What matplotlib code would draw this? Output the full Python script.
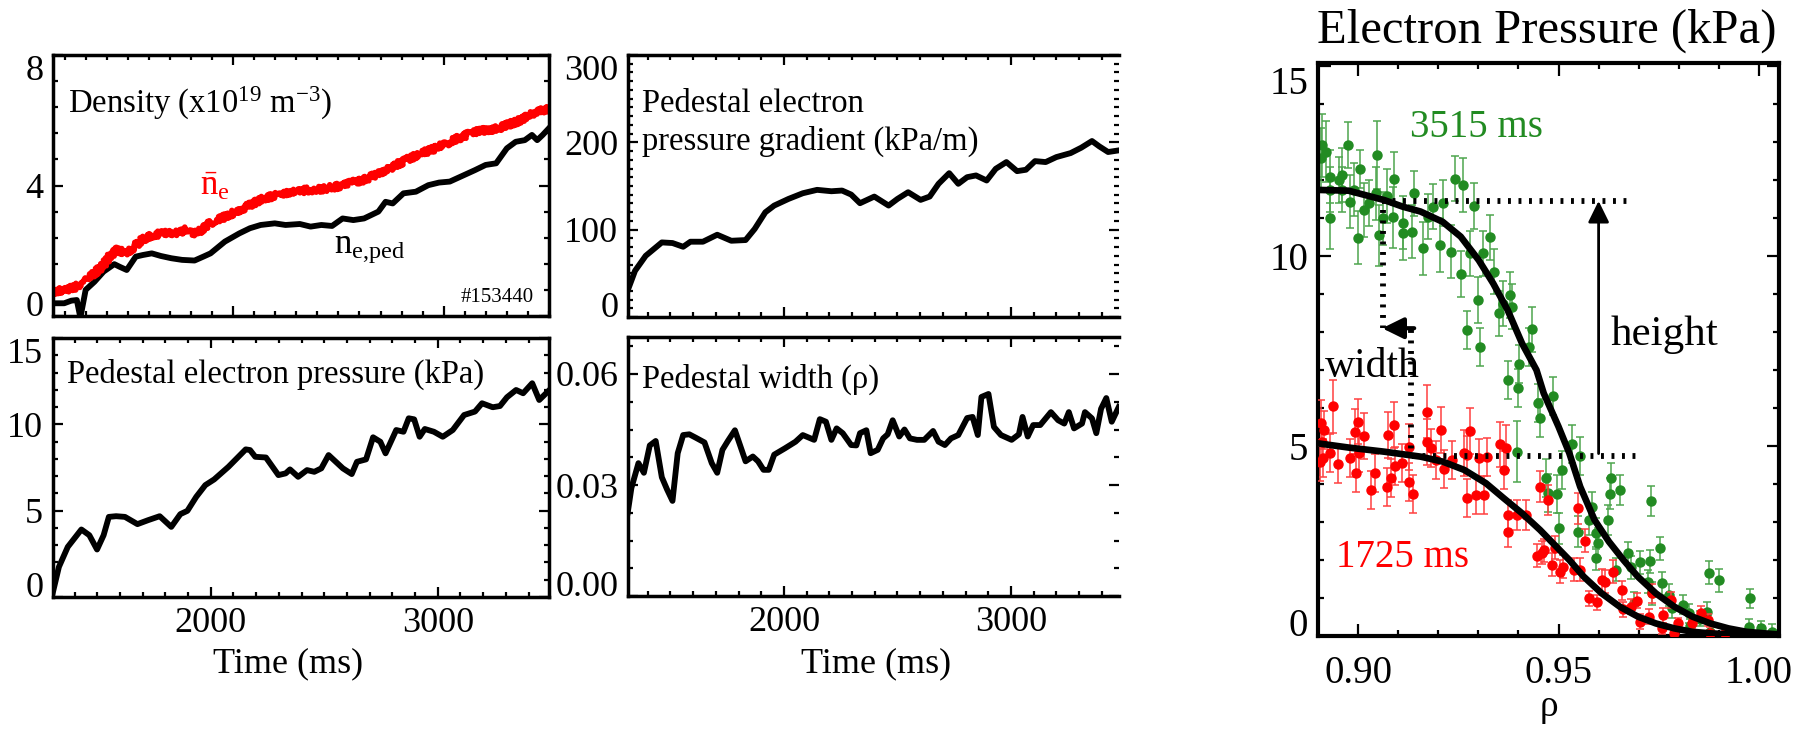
import matplotlib
matplotlib.use("Agg")
import matplotlib.pyplot as plt
from matplotlib.ticker import MultipleLocator, FormatStrFormatter

plt.rcParams['font.family'] = ['Liberation Serif', 'DejaVu Serif']
plt.rcParams['mathtext.fontset'] = 'custom'
plt.rcParams['mathtext.rm'] = 'Liberation Serif'
plt.rcParams['mathtext.it'] = 'Liberation Serif:italic'

GREEN = '#228b22'
RED = '#ff0000'

# ---- time traces, shot 153440 ----
t_ne_ped = [1145, 1198, 1232, 1258, 1275, 1300, 1342, 1385, 1436, 1461, 1495, 1538, 1572,
            1614, 1657, 1707, 1758, 1817, 1859, 1893, 1961, 2029, 2080, 2131, 2198, 2249,
            2317, 2368, 2419, 2470, 2520, 2571, 2622, 2690, 2724, 2758, 2809, 2868, 2927,
            2978, 3029, 3080, 3148, 3199, 3249, 3300, 3342, 3385, 3419, 3444, 3470, 3499]
ne_ped = [0.39, 0.39, 0.47, 0.49, -0.05, 0.80, 1.05, 1.36, 1.59, 1.51, 1.41, 1.82, 1.87,
          1.92, 1.84, 1.77, 1.72, 1.70, 1.82, 1.92, 2.28, 2.53, 2.69, 2.79, 2.84, 2.79,
          2.82, 2.74, 2.79, 2.76, 2.99, 2.94, 2.99, 3.20, 3.50, 3.45, 3.76, 3.81, 4.01,
          4.09, 4.12, 4.27, 4.47, 4.63, 4.68, 5.14, 5.34, 5.39, 5.55, 5.39, 5.55, 5.75]

t_ne_bar = [1145, 1198, 1249, 1300, 1342, 1385, 1419, 1453, 1487, 1520, 1571, 1622, 1673,
            1724, 1775, 1826, 1876, 1944, 2012, 2080, 2148, 2215, 2283, 2351, 2419, 2487,
            2555, 2622, 2690, 2758, 2826, 2893, 2961, 3029, 3097, 3165, 3232, 3300, 3368,
            3436, 3499]
ne_bar = [0.75, 0.80, 0.88, 1.10, 1.31, 1.56, 1.87, 2.04, 1.92, 2.07, 2.35, 2.48, 2.55,
          2.53, 2.64, 2.53, 2.79, 2.99, 3.20, 3.40, 3.61, 3.71, 3.81, 3.86, 3.89, 3.96,
          4.07, 4.17, 4.37, 4.58, 4.80, 4.98, 5.14, 5.34, 5.52, 5.68, 5.70, 5.85, 6.01,
          6.26, 6.36]

t_pe = [1305, 1331, 1370, 1430, 1465, 1499, 1528, 1551, 1583, 1622, 1677, 1724, 1775,
        1826, 1866, 1897, 1936, 1976, 2015, 2078, 2154, 2173, 2196, 2243, 2298, 2330,
        2349, 2385, 2424, 2456, 2487, 2519, 2582, 2621, 2644, 2684, 2715, 2747, 2770,
        2817, 2849, 2872, 2896, 2920, 2943, 2983, 3022, 3066, 3116, 3164, 3195, 3242,
        3274, 3305, 3345, 3376, 3416, 3447, 3489]
pe_ped = [0.3, 1.74, 2.90, 3.91, 3.58, 2.75, 3.58, 4.64, 4.68, 4.64, 4.22, 4.45, 4.68,
          4.06, 4.80, 4.99, 5.80, 6.48, 6.81, 7.54, 8.55, 8.51, 8.12, 8.08, 7.06, 7.16,
          7.39, 6.96, 7.35, 7.25, 7.45, 8.22, 7.45, 7.12, 7.83, 7.97, 9.25, 8.99, 8.32,
          9.67, 9.57, 10.35, 10.29, 9.28, 9.73, 9.57, 9.28, 9.67, 10.54, 10.74, 11.22,
          10.99, 11.06, 11.57, 11.99, 11.80, 12.38, 11.41, 11.95]

t_grad = [1312, 1344, 1391, 1462, 1509, 1556, 1588, 1643, 1706, 1768, 1831, 1871, 1918,
          1957, 2020, 2083, 2146, 2209, 2256, 2296, 2335, 2398, 2461, 2500, 2547, 2602,
          2642, 2681, 2728, 2768, 2807, 2846, 2893, 2933, 2980, 3027, 3066, 3106, 3153,
          3200, 3263, 3310, 3357, 3389, 3428, 3475]
grad_pe = [30.6, 52.9, 70.1, 85.4, 84.7, 80.4, 86.2, 86.2, 94.2, 87.3, 88.1, 100.8, 119.9,
           127.6, 135.2, 141.7, 145.6, 144.0, 144.8, 140.2, 130.3, 137.9, 127.6, 135.2,
           142.9, 134.1, 137.9, 152.5, 164.7, 152.5, 160.1, 162.1, 156.3, 169.7, 177.4,
           167.0, 168.6, 178.5, 177.4, 183.1, 187.7, 193.9, 201.5, 195.4, 188.9, 190.8]

t_wid = [1312, 1328, 1359, 1383, 1409, 1435, 1462, 1485, 1509, 1532, 1556, 1583, 1611,
         1650, 1682, 1706, 1729, 1753, 1784, 1831, 1863, 1886, 1910, 1933, 1957, 2004,
         2051, 2083, 2133, 2158, 2185, 2209, 2232, 2259, 2296, 2319, 2335, 2363, 2382,
         2413, 2437, 2457, 2479, 2508, 2531, 2555, 2586, 2618, 2657, 2681, 2709, 2736,
         2768, 2807, 2831, 2854, 2870, 2901, 2925, 2956, 3003, 3035, 3051, 3074, 3098,
         3129, 3176, 3208, 3235, 3255, 3278, 3313, 3326, 3357, 3376, 3397, 3420, 3444,
         3475]
width_ped = [0.0226, 0.0292, 0.0359, 0.0333, 0.0407, 0.0419, 0.0321, 0.0288, 0.0257,
             0.0386, 0.0435, 0.0437, 0.0428, 0.0415, 0.0359, 0.0333, 0.0395, 0.0419,
             0.0448, 0.0364, 0.0377, 0.0364, 0.0341, 0.0341, 0.0382, 0.0399, 0.0417,
             0.0435, 0.0422, 0.0478, 0.0471, 0.0422, 0.0453, 0.0440, 0.0408, 0.0407,
             0.0440, 0.0448, 0.0386, 0.0395, 0.0426, 0.0437, 0.0475, 0.0431, 0.0450,
             0.0426, 0.0422, 0.0422, 0.0446, 0.0417, 0.0408, 0.0426, 0.0435, 0.0481,
             0.0484, 0.0435, 0.0538, 0.0546, 0.0457, 0.0435, 0.0422, 0.0437, 0.0484,
             0.0431, 0.0462, 0.0462, 0.0497, 0.0475, 0.0466, 0.0497, 0.0453, 0.0466,
             0.0497, 0.0480, 0.0440, 0.0506, 0.0535, 0.0471, 0.0511]

# ---- electron pressure profiles ----
rho_3515 = [0.8911, 0.8908, 0.8920, 0.8929, 0.8931, 0.8931, 0.8953, 0.8960, 0.8961, 0.8974,
            0.8979, 0.8990, 0.9006, 0.9001, 0.9014, 0.9026, 0.9044, 0.9048, 0.9053, 0.9062,
            0.9072, 0.9089, 0.9087, 0.9111, 0.9111, 0.9134, 0.9140, 0.9161, 0.9175, 0.9188,
            0.9204, 0.9211, 0.9233, 0.9241, 0.9261, 0.9256, 0.9278, 0.9289, 0.9298, 0.9312,
            0.9328, 0.9340, 0.9351, 0.9362, 0.9378, 0.9384, 0.9272, 0.9305, 0.9402, 0.9435,
            0.9427, 0.9375, 0.9400, 0.9486, 0.9448, 0.9454, 0.9396, 0.9534, 0.9554, 0.9509,
            0.9468, 0.9473, 0.9496, 0.9583, 0.9631, 0.9628, 0.9653, 0.9500, 0.9549, 0.9576,
            0.9594, 0.9624, 0.9730, 0.9599, 0.9594, 0.9673, 0.9703, 0.9728, 0.9752, 0.9644,
            0.9680, 0.9724, 0.9757, 0.9876, 0.9900, 0.9775, 0.9733, 0.9689, 0.9811, 0.9784,
            0.9825, 0.9870, 0.9978, 0.9829, 0.9852, 0.9879, 0.9974, 1.0005, 1.0032]
pe_3515 = [12.92, 12.57, 12.75, 12.09, 11.75, 10.99, 12.00, 12.13, 11.75, 12.92,
           11.43, 11.75, 12.28, 10.48, 11.21, 11.39, 11.65, 12.66, 10.55, 10.99,
           11.58, 12.04, 11.02, 10.88, 10.60, 10.64, 11.65, 10.20, 11.04, 11.30,
           10.29, 11.39, 10.11, 12.04, 11.87, 9.53, 10.07, 11.32, 8.84, 10.07,
           10.49, 9.59, 8.49, 8.75, 8.97, 8.67, 8.05, 7.61, 7.16, 8.07,
           7.61, 6.75, 6.52, 6.32, 6.12, 5.73, 4.85, 5.05, 4.75, 4.37,
           4.15, 3.77, 3.75, 3.40, 4.15, 3.75, 3.84, 2.83, 2.75, 3.05,
           2.70, 3.05, 3.56, 2.44, 2.04, 2.18, 1.94, 1.97, 2.31, 1.74,
           1.81, 1.43, 1.39, 1.67, 1.47, 1.08, 1.12, 0.86, 0.82, 0.73,
           0.60, 0.64, 0.99, 0.26, 0.46, 0.11, 0.25, 0.20, 0.11]
err_3515 = [0.83, 0.80, 0.80, 0.70, 0.60, 0.80, 0.60, 0.70, 0.60, 0.60,
            0.70, 0.70, 0.50, 0.70, 0.70, 0.60, 0.70, 0.90, 0.80, 0.70,
            0.70, 0.70, 0.80, 0.70, 0.70, 0.70, 0.60, 0.70, 0.60, 0.60,
            0.70, 0.60, 0.70, 0.60, 0.70, 0.60, 0.60, 0.60, 0.60, 0.60,
            0.60, 0.60, 0.60, 0.60, 0.60, 0.60, 0.50, 0.50, 0.50, 0.60,
            0.50, 0.50, 0.50, 0.50, 0.50, 0.50, 0.80, 0.50, 0.50, 0.50,
            0.50, 0.50, 0.50, 0.40, 0.40, 0.40, 0.40, 0.40, 0.40, 0.40,
            0.40, 0.40, 0.40, 0.40, 0.30, 0.30, 0.30, 0.30, 0.30, 0.30,
            0.30, 0.30, 0.30, 0.30, 0.30, 0.30, 0.30, 0.30, 0.25, 0.25,
            0.25, 0.25, 0.25, 0.20, 0.20, 0.20, 0.20, 0.20, 0.20]

rho_1725 = [0.8908, 0.8914, 0.8911, 0.8913, 0.8905, 0.8931, 0.8937, 0.8951, 0.8980, 0.8992,
            0.8994, 0.9001, 0.9003, 0.9014, 0.9032, 0.9041, 0.9073, 0.9075, 0.9082, 0.9089,
            0.9091, 0.9110, 0.9128, 0.9128, 0.9137, 0.9171, 0.9173, 0.9182, 0.9195, 0.9208,
            0.9215, 0.9234, 0.9263, 0.9272, 0.9279, 0.9272, 0.9294, 0.9301, 0.9314, 0.9321,
            0.9355, 0.9364, 0.9369, 0.9373, 0.9373, 0.9396, 0.9420, 0.9454, 0.9473, 0.9459,
            0.9447, 0.9464, 0.9491, 0.9483, 0.9504, 0.9511, 0.9549, 0.9565, 0.9538, 0.9554,
            0.9576, 0.9596, 0.9608, 0.9617, 0.9637, 0.9658, 0.9662, 0.9682, 0.9696, 0.9703,
            0.9725, 0.9734, 0.9757, 0.9761, 0.9780, 0.9789, 0.9799, 0.9834, 0.9856, 0.9874,
            0.9879, 0.9915]
pe_1725 = [5.60, 5.42, 5.11, 4.68, 4.59, 4.81, 6.04, 4.53, 4.68, 5.38,
           4.28, 5.64, 4.81, 5.26, 3.84, 4.28, 3.93, 5.29, 4.15, 5.55,
           4.47, 4.54, 4.98, 4.06, 3.74, 5.90, 5.11, 4.96, 4.63, 5.42,
           4.39, 4.63, 4.81, 3.64, 5.39, 4.76, 3.71, 4.68, 3.71, 4.72,
           5.04, 4.37, 4.96, 3.18, 2.75, 3.18, 3.18, 3.93, 3.58, 2.19,
           2.11, 2.26, 2.32, 1.88, 1.69, 1.82, 3.36, 2.51, 1.75, 1.74,
           0.99, 0.89, 1.47, 1.43, 1.69, 1.21, 0.70, 0.77, 0.93, 0.38,
           0.51, 1.12, 0.20, 0.55, 0.95, 0.09, 0.33, 0.33, 0.60, 0.42,
           0.09, 0.07]
err_1725 = [0.60, 0.50, 0.50, 0.50, 0.50, 0.50, 0.70, 0.50, 0.50, 0.60,
            0.50, 0.60, 0.50, 0.60, 0.50, 0.50, 0.50, 0.60, 0.50, 0.60,
            0.50, 0.50, 0.60, 0.50, 0.50, 0.70, 0.60, 0.50, 0.50, 0.60,
            0.50, 0.50, 0.60, 0.50, 0.60, 0.50, 0.50, 0.50, 0.50, 0.50,
            0.60, 0.50, 0.60, 0.40, 0.40, 0.40, 0.40, 0.40, 0.40, 0.30,
            0.30, 0.30, 0.30, 0.30, 0.30, 0.30, 0.40, 0.30, 0.30, 0.30,
            0.20, 0.20, 0.30, 0.30, 0.30, 0.25, 0.20, 0.20, 0.20, 0.20,
            0.20, 0.25, 0.15, 0.20, 0.20, 0.15, 0.15, 0.15, 0.20, 0.15,
            0.15, 0.15]

# fitted profiles
rho_fit_3515 = [0.8900, 0.8976, 0.9066, 0.9111, 0.9156, 0.9211, 0.9256, 0.9301, 0.9337,
                0.9373, 0.9409, 0.9445, 0.9463, 0.9500, 0.9527, 0.9554, 0.9590, 0.9626,
                0.9662, 0.9698, 0.9743, 0.9789, 0.9834, 0.9879, 0.9924, 0.9969, 1.0014,
                1.0050]
pe_fit_3515 = [11.74, 11.72, 11.47, 11.30, 11.17, 10.90, 10.51, 9.89, 9.28, 8.58, 7.70,
               7.00, 6.39, 5.51, 4.81, 3.93, 3.05, 2.48, 2.00, 1.56, 1.12, 0.77, 0.51,
               0.33, 0.20, 0.11, 0.07, 0.04]
rho_fit_1725 = [0.8900, 0.8976, 0.9066, 0.9156, 0.9211, 0.9265, 0.9319, 0.9364, 0.9409,
                0.9454, 0.9491, 0.9527, 0.9563, 0.9608, 0.9653, 0.9698, 0.9743, 0.9789,
                0.9834, 0.9879, 0.9969, 1.0050]
pe_fit_1725 = [5.07, 4.96, 4.85, 4.72, 4.59, 4.37, 4.02, 3.62, 3.23, 2.79, 2.39, 2.00,
               1.56, 1.12, 0.77, 0.51, 0.33, 0.20, 0.11, 0.07, 0.02, 0.00]

W, H = 1806, 740
fig = plt.figure(figsize=(W / 100, H / 100), dpi=100)


def box(x0, y0, x1, y1):
    # pixel box (left, top, right, bottom) -> figure axes
    return fig.add_axes([x0 / W, 1 - y1 / H, (x1 - x0) / W, (y1 - y0) / H])


def style(ax, size, major, minor, spine=2.5, xpad=7):
    for s in ax.spines.values():
        s.set_linewidth(spine)
    ax.tick_params(which='both', direction='in', top=True, right=True,
                   width=1.6, labelsize=size, pad=7)
    ax.tick_params(axis='x', pad=xpad)
    ax.tick_params(which='major', length=major)
    ax.tick_params(which='minor', length=minor)


ax_n = box(53, 55, 549, 316)
ax_p = box(53, 338, 549, 597)
ax_g = box(628, 55, 1119, 317)
ax_w = box(628, 337, 1119, 596)
ax_r = box(1318, 63, 1779, 636)

# density
ax_n.plot(t_ne_ped, ne_ped, color='k', lw=4.2)
red_line, = ax_n.plot(t_ne_bar, ne_bar, color=RED, lw=4.0)
red_line.set_sketch_params(scale=3, length=2, randomness=2)
ax_n.set_xlim(1145, 3500)
ax_n.set_ylim(0, 8)
ax_n.yaxis.set_major_locator(MultipleLocator(4))
ax_n.yaxis.set_minor_locator(MultipleLocator(0.8))
ax_n.text(0.030, 0.778, r'Density (x10$^{19}$ m$^{-3}$)', transform=ax_n.transAxes,
          fontsize=23.5, va='baseline')
ax_n.text(0.296, 0.464, r'$\bar{\mathrm{n}}_\mathrm{e}$', transform=ax_n.transAxes,
          fontsize=25, color=RED, va='baseline')
ax_n.text(0.567, 0.241, r'$\mathrm{n}_\mathrm{e{,}ped}$', transform=ax_n.transAxes,
          fontsize=25, va='baseline')
ax_n.text(0.970, 0.054, '#153440', transform=ax_n.transAxes, fontsize=15,
          ha='right', va='baseline')

# pedestal pressure
ax_p.plot(t_pe, pe_ped, color='k', lw=4.2)
ax_p.set_xlim(1305, 3490)
ax_p.set_ylim(0, 15)
ax_p.yaxis.set_major_locator(MultipleLocator(5))
ax_p.yaxis.set_minor_locator(MultipleLocator(1))
ax_p.text(0.028, 0.826, 'Pedestal electron pressure (kPa)', transform=ax_p.transAxes,
          fontsize=23.5, va='baseline')

# pedestal gradient
ax_g.plot(t_grad, grad_pe, color='k', lw=4.2)
ax_g.set_xlim(1313, 3476)
ax_g.set_ylim(0, 300)
ax_g.yaxis.set_major_locator(MultipleLocator(100))
ax_g.yaxis.set_minor_locator(MultipleLocator(10))
ax_g.text(0.0285, 0.782, 'Pedestal electron', transform=ax_g.transAxes,
          fontsize=23.5, va='baseline')
ax_g.text(0.0285, 0.637, 'pressure gradient (kPa/m)', transform=ax_g.transAxes,
          fontsize=23.5, va='baseline')

# pedestal width
ax_w.plot(t_wid, width_ped, color='k', lw=4.2)
ax_w.set_xlim(1313, 3476)
ax_w.set_ylim(0, 0.07)
ax_w.yaxis.set_major_locator(MultipleLocator(0.03))
ax_w.yaxis.set_minor_locator(MultipleLocator(0.0075))
ax_w.yaxis.set_major_formatter(FormatStrFormatter('%.2f'))
ax_w.text(0.0285, 0.803, 'Pedestal width (ρ)', transform=ax_w.transAxes,
          fontsize=23.5, va='baseline')

for ax in (ax_n, ax_p, ax_g, ax_w):
    ax.xaxis.set_major_locator(MultipleLocator(1000))
    ax.xaxis.set_minor_locator(MultipleLocator(100))
    style(ax, 26, 7, 3.5)
for ax in (ax_n, ax_g):
    ax.tick_params(labelbottom=False)
for ax in (ax_g, ax_w):
    ax.spines['right'].set_visible(False)

fig.text(288 / W, 1 - 672 / H, 'Time (ms)', fontsize=26, ha='center', va='baseline')
fig.text(876 / W, 1 - 672 / H, 'Time (ms)', fontsize=26, ha='center', va='baseline')

# profiles
ax_r.errorbar(rho_3515, pe_3515, yerr=err_3515, fmt='o', color=GREEN, ms=6.5,
              ecolor='#4ea64e', elinewidth=1.1, capsize=3, capthick=1.1, zorder=2)
ax_r.errorbar(rho_1725, pe_1725, yerr=err_1725, fmt='o', color=RED, ms=6.5,
              ecolor='#ff4040', elinewidth=1.1, capsize=3, capthick=1.1, zorder=3)
ax_r.plot(rho_fit_3515, pe_fit_3515, color='k', lw=4.8, zorder=5)
ax_r.plot(rho_fit_1725, pe_fit_1725, color='k', lw=4.8, zorder=5)

dot = dict(color='k', lw=4.2, dashes=(0.5, 1.3), zorder=6)
ax_r.plot([0.906, 0.9685], [11.45, 11.45], **dot)
ax_r.plot([0.9135, 0.970], [4.74, 4.74], **dot)
ax_r.plot([0.9063, 0.9063], [11.2, 8.1], **dot)
ax_r.plot([0.9133, 0.9133], [8.05, 4.9], **dot)
ax_r.annotate('', xy=(0.9060, 8.1), xytext=(0.9140, 8.1),
              arrowprops=dict(arrowstyle='-|>,head_length=0.65,head_width=0.32',
                              mutation_scale=20, lw=3, color='k',
                              shrinkA=0, shrinkB=0), zorder=7)
ax_r.annotate('', xy=(0.960, 11.45), xytext=(0.960, 4.8),
              arrowprops=dict(arrowstyle='-|>,head_length=0.65,head_width=0.32',
                              mutation_scale=20, lw=2, color='k',
                              shrinkA=0, shrinkB=0), zorder=7)

ax_r.text(0.913, 13.13, '3515 ms', color=GREEN, fontsize=28, va='baseline')
ax_r.text(0.8945, 1.82, '1725 ms', color=RED, fontsize=28, va='baseline')
ax_r.text(0.963, 7.66, 'height', fontsize=31, va='baseline')
ax_r.text(0.8918, 6.82, 'width', fontsize=30, va='baseline', zorder=4)

ax_r.set_xlim(0.89, 1.005)
ax_r.set_ylim(0, 15.08)
ax_r.xaxis.set_major_locator(MultipleLocator(0.05))
ax_r.xaxis.set_minor_locator(MultipleLocator(0.01))
ax_r.xaxis.set_major_formatter(FormatStrFormatter('%.2f'))
ax_r.yaxis.set_major_locator(MultipleLocator(5))
ax_r.yaxis.set_minor_locator(MultipleLocator(1))
style(ax_r, 28, 9, 4.5, spine=3, xpad=14)

fig.text(1547 / W, 1 - 43 / H, 'Electron Pressure (kPa)', fontsize=35,
         ha='center', va='baseline')
fig.text(1549 / W, 1 - 716 / H, 'ρ', fontsize=27, ha='center', va='baseline')

# keep the end labels of each y axis inside the frame
fig.canvas.draw()
for ax in (ax_n, ax_p, ax_g, ax_w, ax_r):
    lo, hi = ax.get_ylim()
    span = hi - lo
    for tick, loc in zip(ax.yaxis.get_major_ticks(), ax.yaxis.get_majorticklocs()):
        if abs(loc - lo) < 0.01 * span:
            tick.label1.set_va('baseline')
        elif abs(loc - hi) < 0.01 * span:
            tick.label1.set_va('top')

fig.savefig('out.png', dpi=100)
